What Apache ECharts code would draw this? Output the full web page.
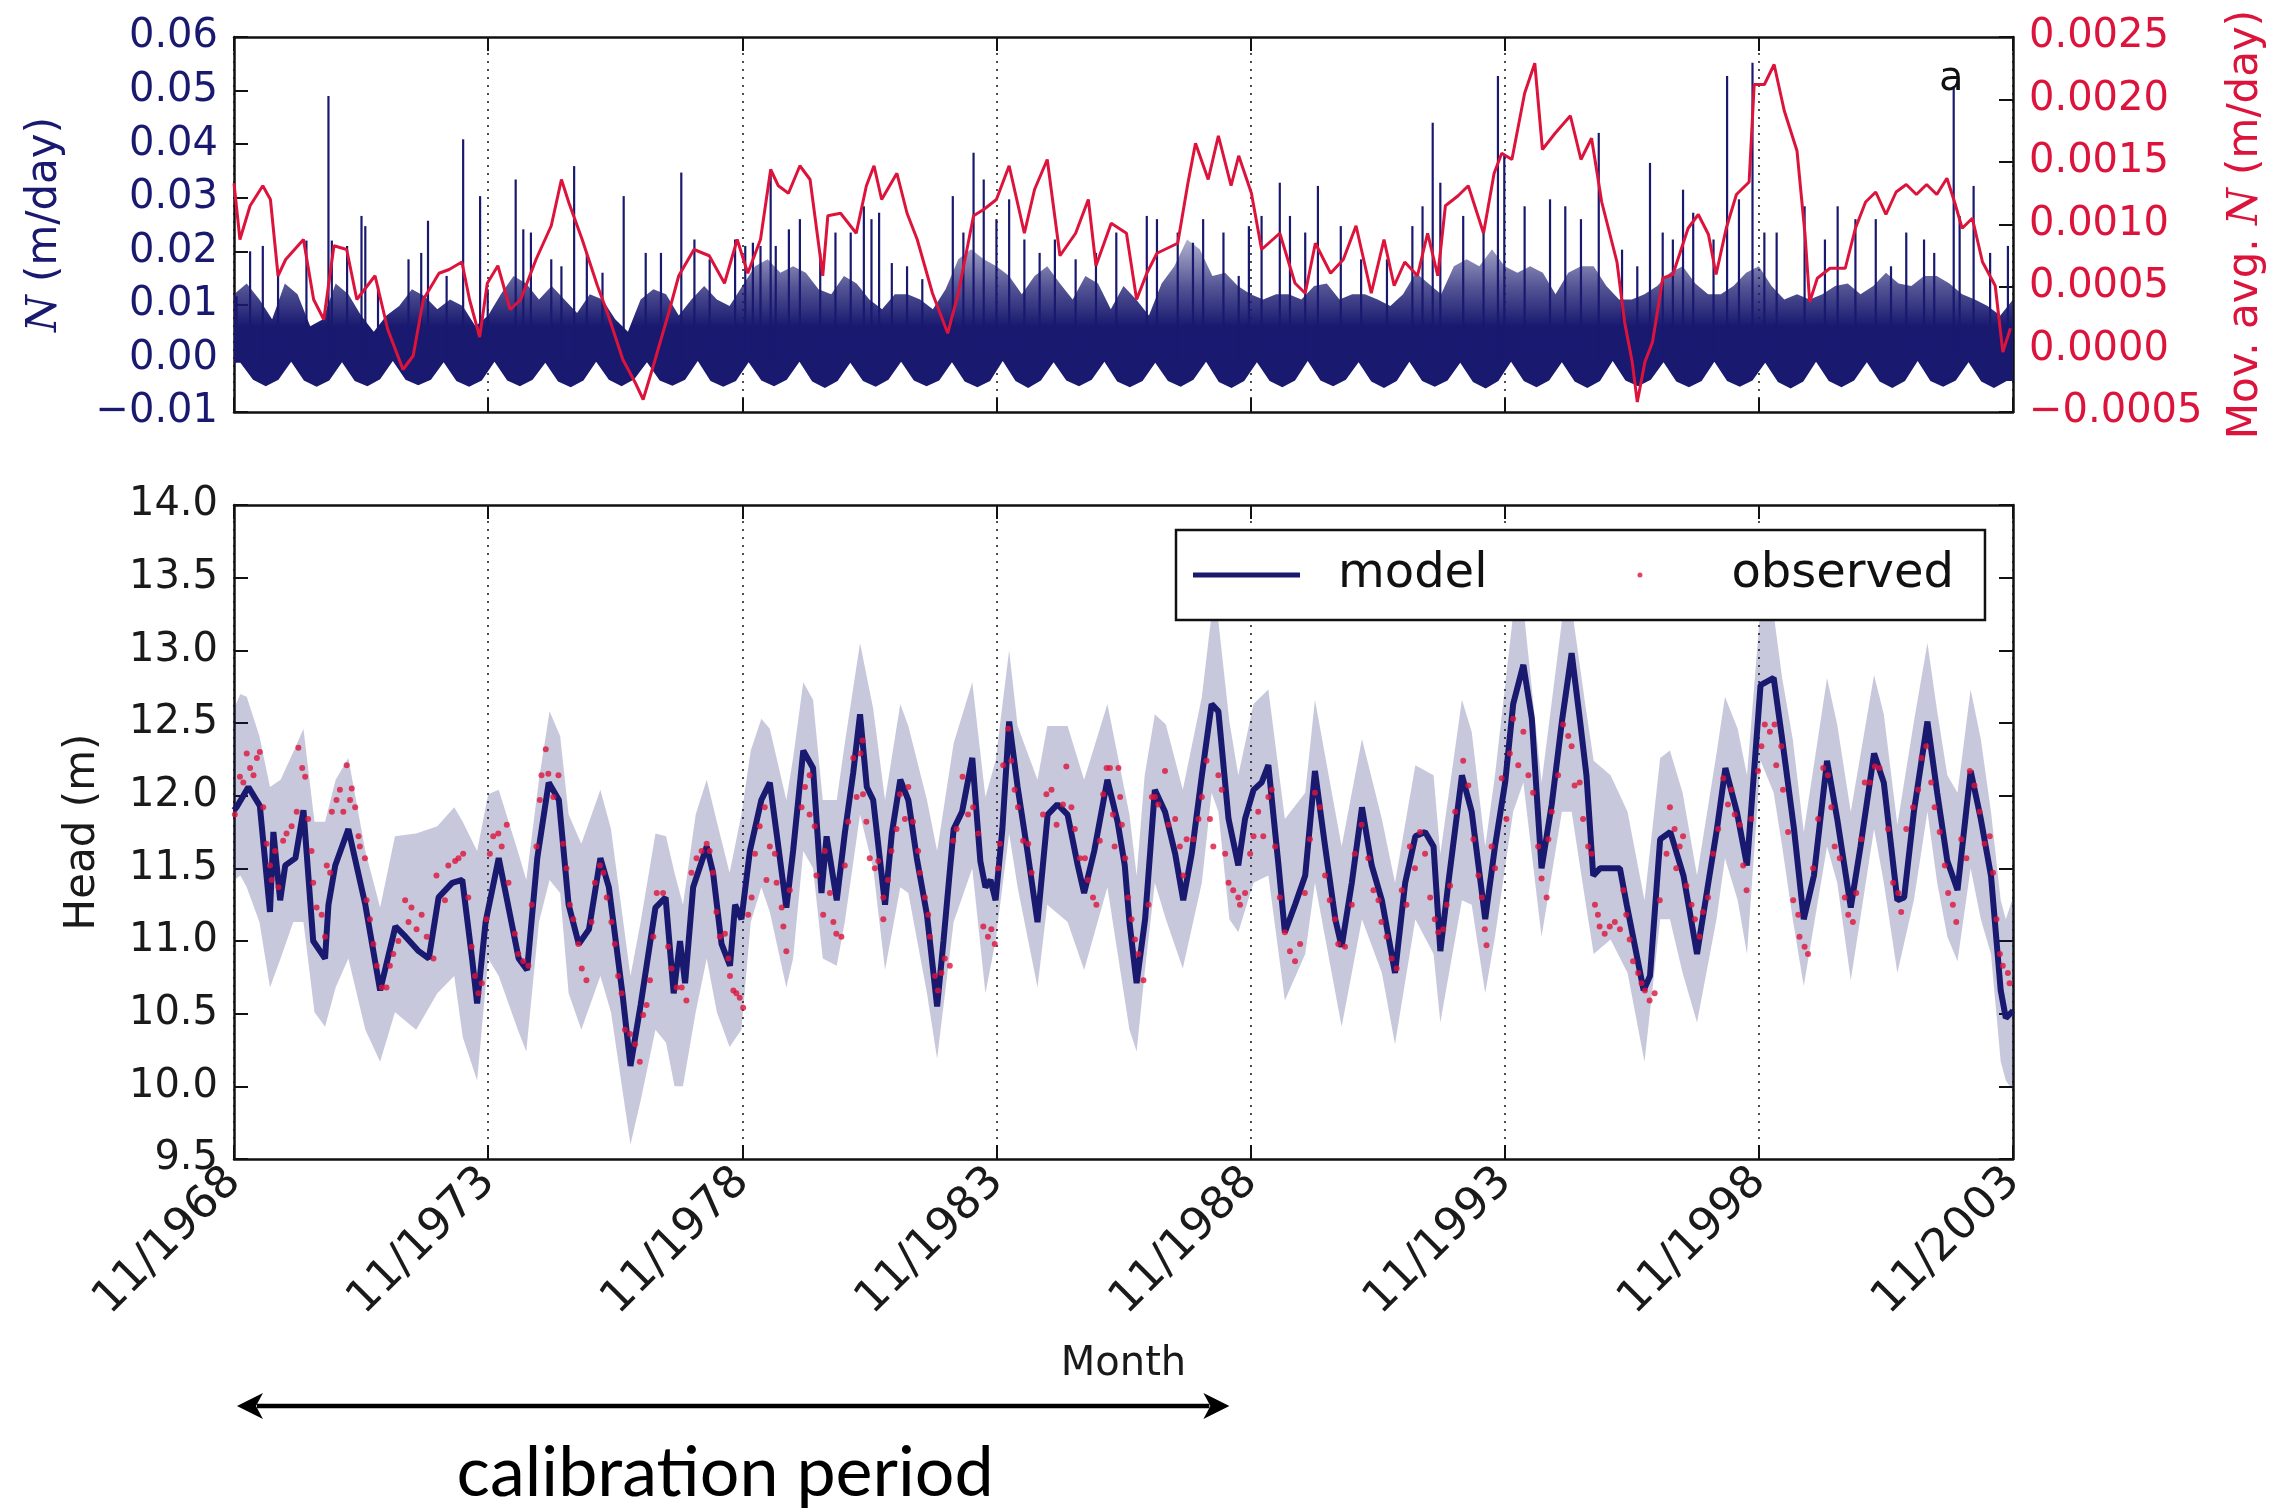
<!DOCTYPE html>
<html><head><meta charset="utf-8">
<script src="https://cdn.jsdelivr.net/npm/echarts@6/dist/echarts.min.js"></script>
<style>html,body{margin:0;padding:0;background:#fff}#c{width:2294px;height:1511px}</style>
</head><body><div id="c"></div>
<script>
// x values are months since 11/1968
const xTickLabels = ['11/1968','11/1973','11/1978','11/1983','11/1988','11/1993','11/1998','11/2003'];
const calibArrow = [0.7, 235];

// Top panel: upper edge of the dense recharge mass (every 3 months from month 0)
const nDenseTop = [.012,.014,.011,.0073,.014,.012,.006,.0073,.014,.012,.008,.005,.008,.0098,.0129,.0116,.0092,.011,.0098,.006,
.008,.012,.0154,.014,.011,.0135,.011,.0085,.012,.011,.0073,.005,.011,.0129,.012,.008,.011,.0135,.011,.0098,
.0135,.0172,.0185,.016,.0172,.016,.0129,.012,.0154,.014,.011,.0092,.012,.012,.011,.0092,.0129,.0185,.0204,.0185,
.0172,.0154,.012,.0154,.0172,.014,.011,.0154,.014,.0092,.0135,.011,.008,.014,.0172,.0222,.0204,.0154,.016,.0135,
.012,.011,.012,.012,.011,.0135,.014,.011,.012,.012,.011,.0098,.012,.016,.014,.012,.0172,.0185,.0172,.0204,
.0172,.016,.0172,.016,.012,.016,.0172,.0172,.0135,.011,.011,.012,.0135,.016,.0172,.014,.012,.012,.0135,.016,
.0172,.0135,.011,.012,.011,.012,.0135,.014,.012,.0135,.016,.014,.0135,.0154,.0154,.014,.012,.011,.0098,.008,.011];
// Top panel: lower edge of recharge (every 3 months from month 1.5)
const nLow = [
-.0008,-.0040,-.0052,-.0040, -.0006,-.0041,-.0053,-.0041, -.0007,-.0042,-.0052,-.0039, -.0005,-.0040,-.0050,-.0040,
-.0007,-.0042,-.0053,-.0041, -.0006,-.0041,-.0052,-.0040, -.0008,-.0043,-.0054,-.0041, -.0006,-.0040,-.0052,-.0039,
-.0007,-.0041,-.0051,-.0040, -.0005,-.0042,-.0053,-.0042, -.0007,-.0041,-.0052,-.0040, -.0006,-.0043,-.0055,-.0042,
-.0008,-.0042,-.0053,-.0040, -.0006,-.0041,-.0052,-.0041, -.0007,-.0043,-.0054,-.0042, -.0005,-.0042,-.0055,-.0041,
-.0007,-.0041,-.0052,-.0040, -.0006,-.0043,-.0054,-.0042, -.0008,-.0042,-.0053,-.0040, -.0006,-.0044,-.0055,-.0042,
-.0007,-.0042,-.0054,-.0041, -.0005,-.0041,-.0052,-.0040, -.0007,-.0043,-.0055,-.0042, -.0006,-.0042,-.0053,-.0041,
-.0008,-.0044,-.0056,-.0042, -.0006,-.0042,-.0054,-.0041, -.0007,-.0043,-.0055,-.0042, -.0005,-.0041,-.0052,-.0040,
-.0007,-.0043,-.0054,-.0042, -.0006,-.0042,-.0053,-.0041, -.0008,-.0044,-.0056,-.0043, -.0006,-.0042,-.0054,-.0041,
-.0007,-.0043,-.0055,-.0042, -.0005,-.0042,-.0053,-.0041, -.0007,-.0043,-.0055,-.0042];
// Top panel: individual recharge spikes [month, N]
const nSpikes = [[0.6,0.0116],[3.8,0.020],[6.8,0.021],[10.4,0.016],[17.1,0.022],[22.3,0.049],[23.1,0.022],[26.7,0.021],[30.1,0.0266],[31,0.0247],[34,0.0135],[41.2,0.0185],[44.2,0.0197],[45.8,0.0257],[50.2,0.0154],[54.1,0.0409],[58.1,0.0303],[59.9,0.0129],[66.5,0.0334],[68.3,0.0241],[70.1,0.0235],[74.9,0.0185],[77.3,0.0172],[80.3,0.0359],[83.3,0.0197],[87,0.016],[92,0.0303],[97.2,0.0197],[100.8,0.0197],[105.6,0.0347],[108.7,0.0222],[112.3,0.0185],[118.3,0.0222],[120.7,0.021],[122.5,0.0216],[124.3,0.021],[126.7,0.0353],[127.9,0.021],[131,0.0241],[133.6,0.026],[138.4,0.0197],[142,0.0235],[145.6,0.0235],[148.7,0.0284],[150.5,0.026],[152.3,0.0272],[155.3,0.0178],[158.9,0.0172],[162.5,0.0148],[169.7,0.0303],[172.2,0.0235],[174.6,0.0384],[177,0.0334],[180,0.026],[183,0.0297],[186.6,0.0222],[190.2,0.0197],[193.8,0.0222],[198.7,0.0185],[203.5,0.0197],[208.3,0.0235],[215.5,0.0266],[217.9,0.026],[222.8,0.0235],[226.4,0.0216],[228.8,0.026],[233.6,0.0235],[237.2,0.0154],[239.6,0.0247],[242.6,0.0266],[246.9,0.0328],[249.3,0.0266],[252.9,0.0235],[255.9,0.0322],[261.3,0.0247],[266.1,0.0185],[272.2,0.0185],[278.2,0.0247],[280.6,0.0284],[283,0.044],[284.8,0.0328],[290.2,0.0266],[295,0.0235],[298.4,0.0527],[299.9,0.0378],[304.7,0.0284],[310.7,0.0297],[314.3,0.0284],[318,0.026],[322.2,0.0421],[327.7,0.0203],[331.3,0.0172],[334.3,0.0365],[337.3,0.0235],[339.7,0.0222],[342.1,0.0315],[344.5,0.0272],[349.3,0.0222],[352.5,0.0527],[355.3,0.0297],[358.5,0.0552],[361.3,0.0235],[364.2,0.0235],[370.8,0.0284],[375.6,0.0222],[378.6,0.0284],[382.8,0.026],[387.6,0.026],[391.2,0.0172],[394.8,0.0235],[399,0.0222],[401.4,0.0197],[406,0.0508],[407.4,0.0266],[410.7,0.0322],[414.6,0.0197],[418.8,0.021]];
// Top panel: moving average of N [month, value]
const mavg = [[0,0.00133],[1.4,0.00088],[3.8,0.00115],[6.8,0.00131],[8.6,0.0012],[10.4,0.00059],[12.2,0.00072],[16.4,0.00088],[18.8,0.0004],[21.2,0.00024],[23.6,0.00083],[26.6,0.0008],[29,0.0004],[33.3,0.00059],[36.3,0.00016],[39.9,-0.00016],[42.3,-0.00005],[44.7,0.0004],[48.4,0.00061],[50.8,0.00064],[53.8,0.0007],[55.6,0.0004],[58,0.0001],[59.8,0.00053],[62.3,0.00067],[65.2,0.00032],[67.7,0.0004],[71.3,0.00072],[74.9,0.00099],[77.3,0.00136],[79.1,0.00117],[82.2,0.00088],[85.8,0.00051],[88.2,0.00029],[91.8,-0.00008],[94.8,-0.00027],[96.6,-0.0004],[99,-0.00013],[102.6,0.00029],[105,0.00059],[108.6,0.0008],[112.2,0.00075],[115.8,0.00053],[118.8,0.00088],[121.3,0.00061],[124.3,0.00088],[126.7,0.00144],[128.5,0.00131],[130.9,0.00125],[133.6,0.00147],[136,0.00136],[139,0.00059],[140.2,0.00107],[143.2,0.00109],[146.9,0.00093],[149.3,0.00131],[151.1,0.00147],[152.9,0.0012],[156.5,0.00141],[158.9,0.00109],[161.3,0.00088],[164.9,0.00045],[168.5,0.00013],[171,0.00045],[174.6,0.00107],[177,0.00112],[180,0.0012],[183,0.00147],[186.6,0.00093],[189,0.00128],[192,0.00152],[195,0.00075],[198.7,0.00093],[201.7,0.0012],[203.5,0.00067],[207.1,0.00101],[210.7,0.00093],[213.1,0.0004],[215.5,0.00061],[217.9,0.00077],[222.8,0.00085],[225.2,0.00133],[227,0.00165],[230,0.00136],[232.4,0.00171],[235.4,0.00131],[237.2,0.00155],[240.2,0.00125],[242.6,0.0008],[246.9,0.00093],[250.5,0.00053],[252.9,0.00045],[255.3,0.00085],[258.9,0.00061],[261.9,0.00072],[264.9,0.00099],[268.5,0.00045],[271.5,0.00088],[273.9,0.00051],[276.4,0.0007],[279.4,0.00059],[281.8,0.00093],[284.2,0.00059],[286,0.00115],[289,0.00123],[291.4,0.00131],[295,0.00093],[297.5,0.00141],[299.3,0.00157],[301.7,0.00152],[304.7,0.00205],[307.1,0.00229],[308.9,0.0016],[311.9,0.00173],[315.5,0.00187],[318,0.00152],[320.5,0.00169],[322.9,0.00118],[326.5,0.0007],[328.3,0.00022],[330.1,-0.0001],[331.3,-0.00042],[333.1,-0.0001],[334.9,0.00006],[337.3,0.00057],[339.7,0.0006],[343.3,0.00097],[345.7,0.00108],[348.1,0.00092],[349.9,0.0006],[352.3,0.00097],[354.7,0.00124],[357.7,0.00134],[358.9,0.00212],[361.3,0.00212],[363.6,0.00228],[366,0.00191],[369,0.00159],[370.9,0.00092],[372,0.00038],[373.8,0.00057],[376.8,0.00065],[380.4,0.00065],[382.8,0.00097],[385.2,0.00118],[387.6,0.00126],[390,0.00108],[392.4,0.00126],[394.8,0.00132],[397.2,0.00124],[399.6,0.00132],[402,0.00124],[404.4,0.00137],[406.2,0.00118],[408,0.00097],[410.4,0.00105],[412.8,0.0007],[415.8,0.00051],[417.6,-0.00002],[419.4,0.00017]];

// Bottom panel: modelled head [month, m]
const model = [[0,11.9],[0.6,11.92],[3.4,12.06],[6.1,11.93],[8.5,11.2],[9.3,11.75],[10.9,11.28],[12.1,11.52],[14.5,11.57],[16.4,11.9],[18.7,11.0],[21.5,10.88],[22.3,11.25],[23.9,11.52],[27,11.77],[31,11.25],[34.5,10.66],[38.1,11.1],[40.5,11.03],[43.6,10.93],[46,10.88],[48.3,11.3],[51.5,11.4],[53.9,11.42],[56.2,10.88],[57.4,10.57],[59.4,11.13],[62.5,11.57],[67.2,10.88],[69.2,10.8],[71.6,11.57],[74.3,12.09],[76.7,11.97],[79,11.25],[81.4,10.98],[83.8,11.08],[86.5,11.57],[88.5,11.37],[91.7,10.64],[93.6,10.14],[96,10.56],[99.5,11.23],[101.9,11.3],[103.8,10.64],[105.3,11.0],[106.5,10.71],[108.4,11.37],[111.6,11.65],[113.1,11.47],[115.1,10.98],[117.1,10.83],[118.3,11.25],[119.8,11.15],[121.8,11.62],[124.5,11.97],[126.5,12.09],[128.1,11.74],[130.4,11.23],[132,11.62],[134.4,12.31],[136.7,12.19],[138.7,11.33],[139.9,11.72],[142.3,11.28],[144.2,11.74],[146.2,12.16],[147.8,12.56],[149.4,12.06],[150.9,11.97],[153.7,11.25],[155.3,11.74],[157.3,12.11],[159.2,11.97],[161.2,11.57],[163.6,11.18],[166,10.55],[167.5,11.0],[169.9,11.77],[171.9,11.89],[174.3,12.26],[176.2,11.55],[177.4,11.37],[178.6,11.42],[179.8,11.28],[181.4,11.77],[183,12.51],[185,12.06],[187.3,11.62],[189.7,11.13],[192.1,11.87],[194.4,11.94],[196.8,11.87],[199.2,11.52],[200.7,11.33],[203.1,11.62],[206.2,12.11],[208.6,11.82],[210.3,11.52],[211.4,11.13],[213.1,10.71],[215.1,11.15],[217.4,12.04],[219.8,11.89],[222.2,11.6],[224.1,11.28],[226.1,11.6],[228.5,12.14],[230.8,12.63],[232.4,12.58],[234.8,11.84],[237.1,11.52],[238.7,11.84],[240.7,12.04],[242.6,12.09],[244.2,12.21],[246.6,11.52],[248.1,11.06],[250.5,11.25],[252.9,11.45],[255.2,12.17],[257.6,11.65],[260,11.15],[261.5,10.96],[263.9,11.4],[266.3,11.92],[268.6,11.52],[271,11.28],[274.1,10.78],[276.5,11.4],[278.9,11.72],[281.2,11.75],[283.2,11.65],[284.8,10.93],[286.7,11.4],[289.9,12.14],[292.2,11.89],[295.4,11.15],[297.7,11.65],[300.1,12.09],[302,12.63],[304.4,12.9],[306.4,12.53],[308.7,11.5],[311.1,11.94],[313.5,12.51],[315.8,12.98],[317.8,12.51],[319.3,12.14],[320.9,11.45],[322.5,11.5],[327.2,11.5],[328.8,11.25],[332.8,10.66],[334.3,10.76],[336.7,11.7],[339.1,11.75],[342.2,11.45],[345.4,10.91],[347.8,11.35],[350.1,11.77],[352.1,12.19],[354.8,11.89],[357.2,11.52],[358.8,12.14],[360.4,12.76],[363.5,12.81],[365.5,12.39],[368.3,11.77],[370.6,11.15],[373,11.45],[376.1,12.24],[378.5,11.84],[381.7,11.23],[384,11.65],[387.2,12.29],[389.5,12.09],[392.7,11.28],[394.3,11.3],[396.6,11.89],[399.8,12.51],[402.1,12.02],[404.5,11.55],[406.9,11.35],[410,12.17],[412.4,11.84],[414.8,11.45],[417.1,10.66],[418.3,10.47],[420,10.52]];
// Bottom panel: model uncertainty band [month, low, high]
const band = [[0,11.42,12.6],[1.5,11.45,12.7],[3,11.37,12.68],[6,11.13,12.41],[8.5,10.68,12.06],[11,10.88,12.11],[14,11.13,12.3],[16.4,11.13,12.46],[19,10.51,11.82],[21.5,10.41,11.82],[24,10.68,12.11],[27,10.88,12.26],[31,10.39,11.62],[34.5,10.17,11.23],[38,10.51,11.72],[43,10.39,11.74],[48,10.64,11.79],[52,10.76,11.92],[54,10.34,11.82],[57.4,10.04,11.62],[60,10.88,12.01],[62.5,10.76,12.04],[67,10.39,11.62],[69,10.24,11.42],[72,11.13,12.11],[74.5,11.42,12.58],[77,11.33,12.41],[79,10.64,11.87],[82,10.39,11.67],[86.5,10.76,12.04],[89,10.51,11.77],[93.6,9.6,10.76],[96,9.9,11.13],[99.5,10.39,11.74],[102,10.3,11.72],[104,10.0,11.47],[106,10.0,11.25],[109,10.51,11.87],[111.6,10.88,12.11],[114,10.51,11.82],[117,10.27,11.47],[119.8,10.39,11.87],[122,11.13,12.31],[124.5,11.37,12.53],[126.5,11.2,12.46],[130.4,10.68,11.97],[132,10.88,12.26],[134.4,11.62,12.78],[136.7,11.5,12.66],[139,10.88,11.97],[142.3,10.83,11.97],[144.2,11.13,12.36],[147.8,11.87,13.05],[150.9,11.5,12.6],[153.7,10.8,11.97],[157.3,11.37,12.63],[159.2,11.33,12.48],[163.6,10.64,11.97],[166,10.19,11.62],[169.9,11.13,12.36],[174.3,11.5,12.78],[177.4,10.64,11.99],[179.8,11.0,12.24],[183,11.74,13.0],[185,11.37,12.48],[189.7,10.68,12.11],[192,11.25,12.48],[196.8,11.13,12.48],[200.7,10.8,12.11],[206.2,11.37,12.63],[211.4,10.39,11.87],[213.1,10.24,11.45],[215,10.78,12.14],[217.4,11.4,12.56],[220,11.15,12.49],[224,10.81,12.04],[228.5,11.4,12.68],[230.8,12.02,13.25],[232.4,11.89,13.2],[235,11.15,12.51],[237.1,11.06,12.14],[240.7,11.4,12.63],[244.2,11.45,12.73],[248.1,10.59,11.84],[252.9,10.91,12.02],[255.2,11.4,12.66],[261.5,10.41,11.65],[266.3,11.15,12.39],[271,10.78,11.84],[274.1,10.29,11.4],[278.9,11.15,12.21],[283.2,10.91,12.14],[284.8,10.44,11.6],[289.9,11.28,12.66],[292.2,11.25,12.44],[295.4,10.64,11.65],[297.7,11.03,12.14],[302,11.89,13.25],[304.4,12.09,13.3],[308.7,11.03,12.09],[313.5,11.89,13.2],[315.8,11.89,13.3],[319,11.28,12.63],[321,10.91,12.24],[325,11.01,12.14],[329,10.78,11.89],[333,10.17,11.28],[336.7,11.15,12.26],[339,11.15,12.31],[342,10.78,12.02],[345.4,10.44,11.45],[350,11.15,12.29],[352,11.57,12.68],[355,11.28,12.46],[357.2,10.91,12.14],[360.4,12.24,13.3],[363.5,12.02,13.25],[365.5,11.65,12.81],[368,11.15,12.39],[370.6,10.69,11.75],[376.1,11.65,12.81],[378.5,11.4,12.49],[381.7,10.73,11.89],[387.2,11.77,12.83],[389.5,11.4,12.56],[392.7,10.78,11.8],[396.6,11.28,12.51],[399.8,11.89,13.05],[402.1,11.4,12.58],[404.5,11.03,12.14],[406.9,10.86,12.02],[410,11.5,12.73],[412.4,11.15,12.39],[414.8,10.91,11.89],[417.1,10.17,11.28],[418.3,10.04,11.15],[420,9.97,11.3]];
// Bottom panel: observed heads [month, m]
const observed = [[0.2,11.87],[1.4,12.13],[2.2,12.09],[3,12.29],[3.8,12.19],[4.6,12.14],[5.4,12.26],[6.1,12.3],[6.9,11.92],[7.7,11.67],[8.5,11.52],[8.9,11.42],[9.7,11.62],[10.5,11.37],[11.6,11.69],[12.4,11.74],[13.6,11.79],[14.8,11.89],[15.2,12.33],[16.1,12.19],[16.8,12.13],[17.5,11.84],[18.3,11.62],[18.7,11.4],[19.5,11.23],[20.7,11.18],[21.5,11.03],[21.9,11.52],[22.7,11.47],[23.1,11.89],[24.2,11.97],[25,12.04],[25.8,11.89],[26.6,12.21],[27.4,11.97],[27.8,12.05],[28.6,11.92],[29.4,11.72],[29.7,11.65],[30.9,11.57],[31.3,11.28],[32.1,11.15],[32.9,10.98],[33.7,10.83],[34.9,10.68],[36,10.68],[36.8,10.83],[37.6,10.91],[38.8,11],[40.4,11.28],[41.2,11.13],[41.9,11.23],[43.1,11.08],[44.3,11.18],[45.5,11.03],[47.1,10.88],[47.8,11.45],[49.8,11.28],[50.6,11.52],[52.2,11.55],[53,11.57],[54.1,11.6],[55.3,11.3],[56.1,10.96],[56.9,10.76],[57.7,10.64],[58.5,10.71],[59.6,11.15],[60.4,11.6],[61.2,11.72],[62.4,11.74],[63.2,11.65],[64.4,11.8],[64.8,11.4],[66.3,11.05],[67.1,10.91],[68.3,10.86],[69.5,10.83],[70.3,11.25],[71.4,11.65],[72.2,11.97],[72.6,12.14],[73.6,12.32],[74.2,12.15],[75.4,11.99],[76.6,12.14],[77.7,11.67],[78.5,11.5],[79.3,11.25],[80.1,11.15],[81.3,10.98],[82.1,10.81],[83.2,10.73],[84.4,11.13],[85.2,11.4],[86.4,11.52],[87.2,11.47],[88,11.3],[89.1,11.13],[89.9,10.98],[90.7,10.76],[91.5,10.64],[92.3,10.39],[93.5,10.36],[94.7,10.29],[95.8,10.17],[96.6,10.49],[97.4,10.56],[98.2,10.73],[99,11.03],[99.8,11.33],[101.3,11.33],[102.5,10.96],[103.3,10.81],[104.5,10.68],[105.7,10.68],
[106.8,10.59],[108,11.47],[109.2,11.57],[110.4,11.62],[111.6,11.67],[112.3,11.62],[113.1,11.47],[113.9,11.2],[114.7,11.03],[115.9,11.05],[116.7,10.88],[117.1,10.76],[117.9,10.66],[118.6,10.64],[119.4,10.61],[120.2,10.54],[121.4,11.18],[122.2,11.3],[123,11.6],[124.1,11.79],[125.3,11.92],[125.7,11.42],[126.5,11.65],[127.7,11.6],[128.1,11.4],[129.3,11.23],[129.7,11.1],[130.4,10.93],[131.2,11.35],[134,11.92],[134.8,12.06],[135.9,12.14],[135.9,11.87],[137.1,11.79],[137.5,11.45],[139.1,11.18],[139.5,11.62],[140.7,11.33],[141.5,11.13],[142.2,11.05],[143.4,11.03],[144.2,11.52],[145,11.82],[146.2,12.26],[147,11.99],[147.9,12.29],[148.4,12.38],[148.5,12.01],[149.3,11.82],[150.1,11.57],[151.3,11.5],[152.1,11.55],[153.3,11.3],[153.3,11.15],[154.4,11.42],[155.2,11.62],[156.4,11.77],[157.2,12.01],[158.4,11.84],[159.2,12.06],[160.3,11.82],[161.5,11.62],[161.9,11.47],[163.1,11.3],[163.9,11.18],[164.3,11.03],[165.5,10.76],[166.2,10.66],[167,10.78],[167.8,10.88],[169,10.83],[169.8,11.69],[170.6,11.77],[172,12.13],[173.3,11.87],[174.5,11.92],[175.7,11.74],[176.9,11.1],[178,11.03],[178.8,11.08],[179.6,10.98],[180.4,11.5],[180.8,11.67],[181.6,12.21],[182.8,12.46],[183.5,12.24],[184.3,12.04],[185.1,11.92],[186.3,11.69],[187.5,11.67],[188.3,11.47],[191,11.87],[191.8,12.01],[193,12.04],[194.2,11.8],[195.7,11.94],[196.5,12.2],[197.7,11.92],[198.5,11.77],[199.7,11.57],[200.9,11.57],[201.6,11.42],[202.8,11.3],[203.6,11.25],[204.4,11.69],[205.2,12.01],[206,12.19],[206.8,12.19],[207.5,11.87],[207.9,11.65],
[208.8,12.19],[209.2,11.99],[209.6,11.8],[210.4,11.57],[211.1,11.3],[211.9,11.15],[212.7,11.01],[213.5,10.91],[214.7,10.73],[215.9,11.25],[216.7,11.99],[217.4,11.99],[218.2,11.94],[219.8,12.17],[220.6,11.8],[222.2,11.84],[223.3,11.65],[224.1,11.45],[224.9,11.7],[226.5,11.7],[227.7,11.84],[228.5,11.99],[229.6,12.24],[230.4,11.84],[231.2,11.65],[232.4,12.14],[233.2,12.04],[234,11.6],[234.8,11.4],[235.9,11.35],[237.1,11.3],[237.5,11.25],[238.7,11.33],[239.9,11.6],[240.7,11.72],[241.8,11.89],[243,11.72],[244.2,11.99],[245,12.04],[245.8,11.65],[246.9,11.3],[248.1,11.06],[249.3,10.93],[250.5,10.86],[251.7,10.98],[252.8,11.33],[254,11.7],[255.2,12.02],[256.4,11.92],[257.6,11.45],[258.7,11.28],[259.9,11.15],[260.7,10.98],[262.3,10.96],[263.9,11.25],[264.6,11.6],[266.2,11.8],[267.8,11.57],[269,11.35],[270.2,11.28],[270.9,11.13],[272.1,11.03],[273.3,10.88],[274.5,10.81],[275.7,11.35],[276.8,11.25],[277.6,11.65],[278.8,11.5],[280,11.75],[281.2,11.6],[282.4,11.3],[283.5,11.15],[284.3,11.06],[285.5,11.08],[286.3,11.25],[287.1,11.38],[288.3,11.89],[290.2,12.24],[291.4,12.07],[292.6,11.7],[293.8,11.45],[294.6,11.3],[295.3,11.08],[295.7,10.97],[296.9,11.65],[297.7,11.5],[299.3,12.12],[300.4,11.84],[301.2,12.29],[302,12.53],[303.2,12.21],[304.4,12.44],[305.6,12.14],[306.7,12.02],[307.9,11.65],[308.7,11.43],[309.9,11.3],[310.3,11.7],[311.1,11.89],[312.6,12.14],[313.8,12.49],[315,12.41],[315.8,12.34],
[316.5,12.07],[317.7,12.09],[318.5,11.84],[319.7,11.65],[320.5,11.6],[321.3,11.25],[322,11.18],[322.4,11.1],[323.6,11.05],[324.8,11.1],[326,11.13],[327.2,11.08],[328,11.35],[328.7,11.18],[329.5,11.01],[330.3,10.86],[331.5,10.78],[332.3,10.71],[333.1,10.66],[334.2,10.59],[335.4,10.64],[336.6,11.28],[338.2,11.6],[339,11.92],[340.1,11.77],[340.5,11.5],[341.3,11.65],[342.1,11.72],[342.9,11.38],[344.1,11.25],[344.9,11.15],[346,11.03],[346.8,11.2],[348,11.3],[349.2,11.6],[350.4,11.77],[351.6,12.12],[352.7,11.94],[353.5,12.04],[354.3,11.87],[355.5,11.8],[356.3,11.52],[357.1,11.35],[358.2,11.84],[359.8,12.17],[360.6,12.34],[361.4,12.49],[362.6,12.44],[363.7,12.49],[364.1,12.21],[365.3,12.34],[365.7,12.04],[366.9,11.75],[368.1,11.28],[369.3,11.18],[369.6,11.03],[370.8,10.96],[371.6,10.91],[372.8,11.5],[374,11.84],[375.2,12.19],[376.3,12.14],[377.1,11.92],[377.9,11.65],[379.1,11.57],[380.3,11.3],[381.1,11.18],[382.2,11.13],[383,11.33],[384.2,11.7],[385,12.09],[386.2,12.09],[387.4,12.2],[388.5,12.19],[390.5,11.77],[391.7,11.4],[392.9,11.33],[393.6,11.2],[394.8,11.77],[396.4,11.92],[397.6,12.04],[398.4,12.26],[399.5,12.34],[400.7,12.09],[401.5,11.92],[402.7,11.75],[403.9,11.52],[404.7,11.33],[405.8,11.25],[406.6,11.13],[407.8,11.7],[409,11.57],[409.8,12.17],[410.9,12.07],[412.1,11.89],[413.3,11.67],[414.5,11.72],[415.3,11.47],[416.1,11.15],[416.9,10.91],[417.6,10.83],[418.8,10.78],[419.2,10.71]];

const NAVY = '#191970', RED = '#dc143c', FONT = 'DejaVu Sans';
const chart = echarts.init(document.getElementById('c'), null, {renderer: 'canvas'});

const minus = s => s.replace('-', '\u2212');
function xAx(grid, pos, labels) {
  return {
    type: 'value', gridIndex: grid, position: pos, min: 0, max: 420, interval: 60,
    axisLine: {show: true, onZero: false, lineStyle: {color: '#111', width: 2.5}},
    axisTick: {show: true, inside: true, length: 14, lineStyle: {color: '#111', width: 2}},
    axisLabel: labels ? {show: true, rotate: 45, margin: 16, fontSize: 45, fontFamily: FONT, color: '#1a1a1a',
      formatter: v => xTickLabels[Math.round(v / 60)]} : {show: false},
    splitLine: {show: pos === 'bottom', lineStyle: {color: '#222', width: 1.6, type: [2, 6]}}
  };
}
function yAx(grid, pos, min, max, iv, dec, color, showLabel) {
  return {
    type: 'value', gridIndex: grid, position: pos, min: min, max: max, interval: iv,
    axisLine: {show: true, onZero: false, lineStyle: {color: '#111', width: 2.5}},
    axisTick: {show: true, inside: true, length: 14, lineStyle: {color: '#111', width: 2}},
    axisLabel: showLabel ? {show: true, margin: 16, fontSize: 40, fontFamily: FONT, color: color,
      formatter: v => minus(v.toFixed(dec))} : {show: false},
    splitLine: {show: false}
  };
}

const yAxes = [
  yAx(0, 'left', -0.01, 0.06, 0.01, 2, NAVY, true),
  yAx(0, 'right', -0.0005, 0.0025, 0.0005, 4, RED, true),
  yAx(1, 'left', 9.5, 14.0, 0.5, 1, '#1a1a1a', true),
  yAx(1, 'right', 9.5, 14.0, 0.5, 1, '#1a1a1a', false)
];
Object.assign(yAxes[0], {name: '{i|N} (m/day)', nameLocation: 'middle', nameGap: 168, nameRotate: 90,
  nameTextStyle: {fontSize: 42, fontFamily: FONT, color: NAVY,
    rich: {i: {fontFamily: 'DejaVu Serif', fontStyle: 'italic', fontSize: 42, color: NAVY}}}});
Object.assign(yAxes[1], {name: 'Mov. avg. {i|N} (m/day)', nameLocation: 'middle', nameGap: 212, nameRotate: 90,
  nameTextStyle: {fontSize: 42, fontFamily: FONT, color: RED,
    rich: {i: {fontFamily: 'DejaVu Serif', fontStyle: 'italic', fontSize: 42, color: RED}}}});
Object.assign(yAxes[2], {name: 'Head (m)', nameLocation: 'middle', nameGap: 130, nameRotate: 90,
  nameTextStyle: {fontSize: 42, fontFamily: FONT, color: '#1a1a1a'}});

const xAxes = [xAx(0, 'bottom', false), xAx(0, 'top', false), xAx(1, 'bottom', true), xAx(1, 'top', false)];
Object.assign(xAxes[2], {name: 'Month', nameLocation: 'middle', nameGap: 186,
  nameTextStyle: {fontSize: 40, fontFamily: FONT, color: '#1a1a1a'}});

const option = {
  animation: false,
  backgroundColor: '#fff',
  title: {text: 'a', left: 1934, top: 55, textStyle: {fontSize: 40, fontWeight: 'normal', fontFamily: FONT, color: '#111'}},
  grid: [
    {left: 234, top: 37, width: 1779, height: 375},
    {left: 234, top: 505, width: 1779, height: 654}
  ],
  xAxis: xAxes,
  yAxis: yAxes,
  legend: {
    data: [{name: 'model', icon: 'rect'}, {name: 'observed', icon: 'circle'}],
    left: 1176, top: 530, orient: 'horizontal',
    itemWidth: 107, itemHeight: 5, itemGap: 150, padding: [21, 31, 21, 17],
    backgroundColor: '#fff', borderColor: '#111', borderWidth: 2.5, borderRadius: 0,
    textStyle: {fontSize: 48, color: '#111', fontFamily: FONT, padding: [0, 0, 0, 33]},
    z: 20
  },
  series: [
    {
      type: 'custom', name: 'recharge', xAxisIndex: 0, yAxisIndex: 0, clip: true, silent: true, z: 2,
      data: [[0, 0]],
      renderItem: (params, api) => {
        const pts = [];
        for (let i = 0; i < nDenseTop.length; i++) pts.push(api.coord([i * 3, nDenseTop[i]]));
        pts.push(api.coord([420, nLow[nLow.length - 1]]));
        for (let i = nLow.length - 1; i >= 0; i--) pts.push(api.coord([1.5 + 3 * i, nLow[i]]));
        pts.push(api.coord([0, nLow[0]]));
        const yTop = api.coord([0, 0.022])[1], ySolid = api.coord([0, 0.006])[1];
        return {type: 'polygon', shape: {points: pts}, style: {fill: {
          type: 'linear', x: 0, y: yTop, x2: 0, y2: ySolid, global: true,
          colorStops: [{offset: 0, color: 'rgba(25,25,112,0.35)'}, {offset: 0.55, color: 'rgba(25,25,112,0.75)'}, {offset: 1, color: NAVY}]
        }}};
      }
    },
    {
      type: 'custom', name: 'recharge spikes', xAxisIndex: 0, yAxisIndex: 0, clip: true, silent: true, z: 3,
      data: nSpikes,
      renderItem: (params, api) => {
        const a = api.coord([api.value(0), 0]), b = api.coord([api.value(0), api.value(1)]);
        return {type: 'line', shape: {x1: a[0], y1: a[1], x2: b[0], y2: b[1]}, style: {stroke: NAVY, lineWidth: 2.2}};
      }
    },
    {
      type: 'line', name: 'moving average', xAxisIndex: 0, yAxisIndex: 1, data: mavg, z: 5,
      symbol: 'none', showSymbol: false, lineStyle: {color: RED, width: 3}, itemStyle: {color: RED}
    },
    {
      type: 'custom', name: 'band', xAxisIndex: 2, yAxisIndex: 2, clip: true, silent: true, z: 1,
      data: [[0, 0]],
      renderItem: (params, api) => {
        const pts = [];
        for (let i = 0; i < band.length; i++) pts.push(api.coord([band[i][0], band[i][2]]));
        for (let i = band.length - 1; i >= 0; i--) pts.push(api.coord([band[i][0], band[i][1]]));
        return {type: 'polygon', shape: {points: pts}, style: {fill: 'rgba(25,25,112,0.24)'}};
      }
    },
    {
      type: 'line', name: 'model', xAxisIndex: 2, yAxisIndex: 2, data: model, z: 4,
      symbol: 'none', showSymbol: false, lineStyle: {color: NAVY, width: 6}, itemStyle: {color: NAVY}
    },
    {
      type: 'scatter', name: 'observed', xAxisIndex: 2, yAxisIndex: 2, data: observed, z: 6,
      symbol: 'circle', symbolSize: 6, itemStyle: {color: RED}
    }
  ]
};
chart.setOption(option);

// calibration period annotation, placed through the bottom x axis
const xa = chart.convertToPixel({xAxisIndex: 2}, calibArrow[0]);
const xb = chart.convertToPixel({xAxisIndex: 2}, calibArrow[1]);
const ay = 1406, hl = 26, hw = 13;
chart.setOption({
  graphic: [
    {type: 'line', shape: {x1: xa + hl - 6, y1: ay, x2: xb - hl + 6, y2: ay}, style: {stroke: '#000', lineWidth: 4.5}},
    {type: 'polygon', shape: {points: [[xa, ay], [xa + hl, ay - hw], [xa + hl - 7, ay], [xa + hl, ay + hw]]}, style: {fill: '#000'}},
    {type: 'polygon', shape: {points: [[xb, ay], [xb - hl, ay - hw], [xb - hl + 7, ay], [xb - hl, ay + hw]]}, style: {fill: '#000'}},
    {type: 'text', x: (xa + xb) / 2 - 8, y: 1473, style: {text: 'calibration period', fontSize: 70, fontFamily: 'Lato', fill: '#000', align: 'center', verticalAlign: 'middle'}}
  ]
});
</script></body></html>
